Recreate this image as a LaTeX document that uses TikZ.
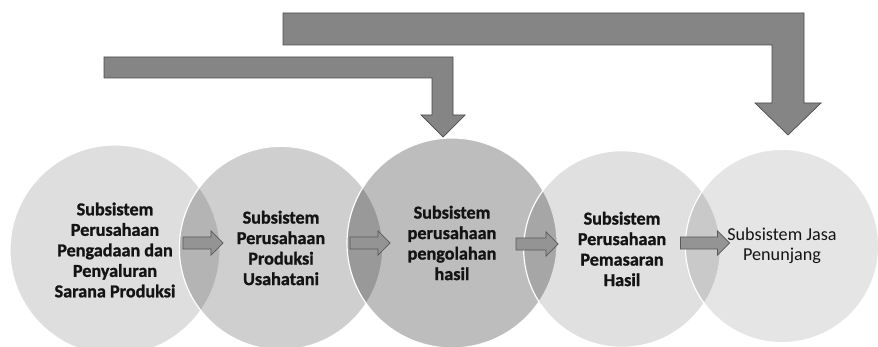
\documentclass[tikz,border=0pt]{standalone}
\usepackage{fontspec}
\setmainfont{Carlito}[BoldFeatures={FakeBold=1.2}]
\usetikzlibrary{shapes.arrows}

\begin{document}
\begin{tikzpicture}[x=0.03cm,y=-0.03cm,
    sub/.style={circle,draw=white,line width=1pt,fill=black,text opacity=1,
        align=center,inner sep=0pt,text=black!92,
        font=\bfseries\fontsize{15.5}{17.5}\selectfont},
    flow/.style={single arrow,draw=black!65,fill=black!42,line width=0.6pt,
        inner xsep=0pt,inner ysep=0.17cm,single arrow head extend=0.18cm},
    bigarrow/.style={draw=black!70,fill=black!48,line width=0.6pt}]
    \useasboundingbox (0,0) rectangle (878,347);
    \clip (0,0) rectangle (878,347);
    % the five subsystems
    \node[sub,fill opacity=0.13,minimum size=6.3cm] (pengadaan) at (115,250)
        {Subsistem\\Perusahaan\\Pengadaan dan\\Penyaluran\\Sarana Produksi};
    \node[sub,fill opacity=0.19,minimum size=6.1cm] (usahatani) at (281,248)
        {Subsistem\\Perusahaan\\Produksi\\Usahatani};
    \node[sub,fill opacity=0.26,minimum size=6.3cm] (pengolahan) at (452,243)
        {Subsistem\\perusahaan\\pengolahan\\hasil};
    \node[sub,fill opacity=0.12,minimum size=5.9cm] (pemasaran) at (622,249)
        {Subsistem\\Perusahaan\\Pemasaran\\Hasil};
    \node[sub,fill opacity=0.10,minimum size=5.8cm,
        font=\fontsize{15.5}{17.5}\selectfont] (jasa) at (782,246)
        {Subsistem Jasa\\Penunjang};
    % flow between them
    \node[flow,minimum height=1.2cm] (a1) at (200,243) {};
    \node[flow,minimum height=1.2cm] (a2) at (367,243) {};
    \node[flow,minimum height=1.26cm] (a3) at (534,244) {};
    \node[flow,minimum height=1.47cm] (a4) at (702,243) {};
    % arrows from above
    \draw[bigarrow] (104,57)--(453,57)--(453,115)--(465,115)--(443,137)
        --(421,115)--(432,115)--(432,78)--(104,78)--cycle;
    \draw[bigarrow] (283,13)--(804,13)--(804,103)--(821,103)--(788,135)
        --(755,103)--(772,103)--(772,45)--(283,45)--cycle;
\end{tikzpicture}
\end{document}
